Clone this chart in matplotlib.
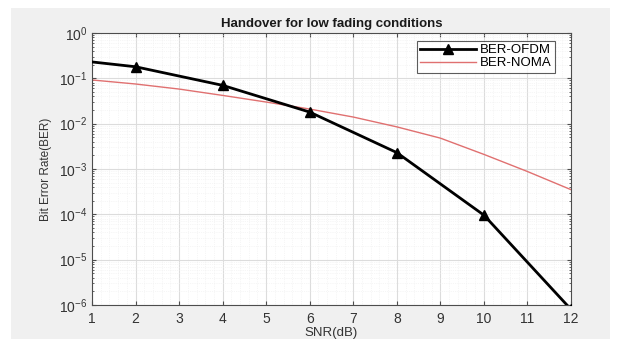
import matplotlib
matplotlib.use("Agg")
import matplotlib.pyplot as plt
from matplotlib.patches import Rectangle
from matplotlib.ticker import LogLocator, NullFormatter, FixedLocator, AutoMinorLocator, LogFormatterSciNotation

plt.rcParams['font.family'] = ['Liberation Sans', 'DejaVu Sans']

snr_ofdm = [1, 2, 4, 6, 8, 10, 12]
ber_ofdm = [0.23, 0.18, 0.07, 0.018, 0.0023, 9.6e-5, 8e-7]

snr_noma = [1, 2, 3, 4, 5, 6, 7, 8, 9, 10, 11, 12]
ber_noma = [0.092, 0.075, 0.058, 0.042, 0.030, 0.021, 0.014, 0.0085, 0.0048, 0.0021, 0.00088, 0.00035]

x_ticks = [1, 2, 3, 4, 5, 6, 7, 8, 9, 10, 11, 12]
y_ticks = [1e-6, 1e-5, 1e-4, 1e-3, 1e-2, 1e-1, 1e0]

W, H = 619, 341
fig = plt.figure(figsize=(W / 100, H / 100), dpi=100, facecolor='white')
fig.patches.append(Rectangle((11 / W, 1 - 339 / H), (610 - 11) / W, (339 - 8) / H,
                             transform=fig.transFigure, facecolor='#f0f0f0',
                             edgecolor='none', zorder=-10))

ax = fig.add_axes([92 / W, 1 - 305 / H, (571 - 92) / W, (305 - 33) / H])
ax.set_facecolor('white')

ax.semilogy(snr_ofdm, ber_ofdm, color='black', lw=2, marker='^', ms=7,
            markevery=[1, 2, 3, 4, 5, 6], label='BER-OFDM', zorder=3)
ax.semilogy(snr_noma, ber_noma, color='#e07070', lw=1, label='BER-NOMA', zorder=2)

ax.set_xlim(1, 12)
ax.set_ylim(1e-6, 1)
ax.xaxis.set_major_locator(FixedLocator(x_ticks))
ax.yaxis.set_major_locator(FixedLocator(y_ticks))
ax.yaxis.set_major_formatter(LogFormatterSciNotation())
minor_y = [m * 10.0 ** e for e in range(-6, 0) for m in range(2, 10)]
ax.yaxis.set_minor_locator(FixedLocator(minor_y))
ax.yaxis.set_minor_formatter(NullFormatter())
ax.xaxis.set_minor_locator(AutoMinorLocator(5))
ax.xaxis.set_minor_formatter(NullFormatter())

ax.grid(which='major', color='#dcdcdc', lw=0.8)
ax.grid(which='minor', color='#eeeeee', lw=0.5, ls=':')
ax.set_axisbelow(True)

for s in ax.spines.values():
    s.set_color('#4d4d4d')
    s.set_linewidth(0.8)
ax.tick_params(which='both', direction='in', top=True, right=True, colors='#4d4d4d',
               labelcolor='#333333', labelsize=10)
ax.tick_params(which='major', length=3)
ax.tick_params(which='minor', length=1.5)
ax.tick_params(axis='x', which='minor', length=0)
ax.tick_params(axis='x', pad=5)

ax.set_title('Handover for low fading conditions', fontsize=9.5, fontweight='bold',
             color='#1a1a1a', pad=4)
ax.set_xlabel('SNR(dB)', fontsize=9.5, color='#333333', labelpad=1)
ax.set_ylabel('Bit Error Rate(BER)', fontsize=8.5, color='#333333', labelpad=5)

leg = ax.legend(loc='upper right', fontsize=9.5, frameon=True, fancybox=False,
                borderpad=0.25, labelspacing=0.05, handlelength=4.2, handletextpad=0.3,
                bbox_to_anchor=(0.98, 0.995))
leg.get_frame().set_edgecolor('#333333')
leg.get_frame().set_linewidth(0.8)

fig.savefig('out.png', dpi=100, facecolor=fig.get_facecolor())
